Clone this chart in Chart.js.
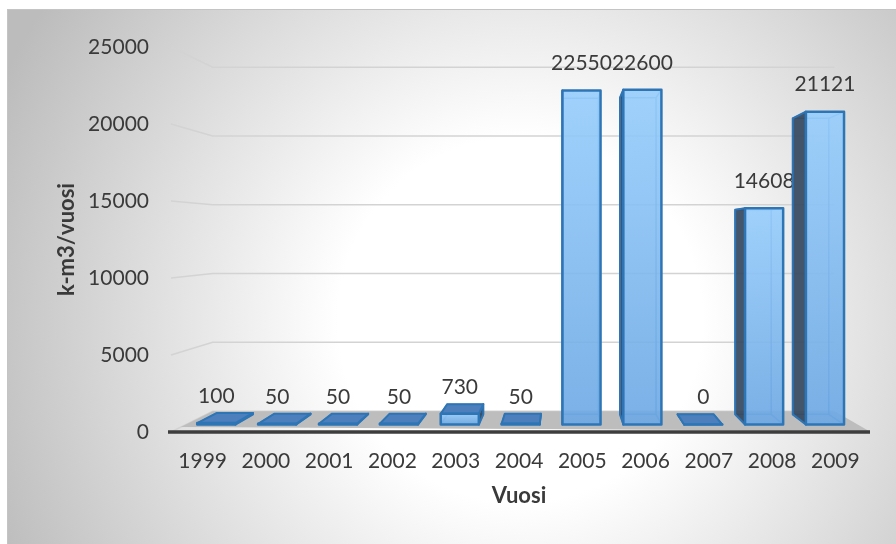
<!DOCTYPE html>
<html>
<head>
<meta charset="utf-8">
<script src="https://cdn.jsdelivr.net/npm/chart.js@4.4.1/dist/chart.umd.min.js"></script>
<style>
  html, body { margin: 0; padding: 0; background: #fff; }
  canvas { display: block; }
</style>
</head>
<body>
<canvas id="myChart" width="896" height="544"></canvas>
<script>
const years = ["1999", "2000", "2001", "2002", "2003", "2004", "2005", "2006", "2007", "2008", "2009"];
const volumes = [100, 50, 50, 50, 730, 50, 22550, 22600, 0, 14608, 21121];
const yTicks = [0, 5000, 10000, 15000, 20000, 25000];

const TEXT = "#3a3a3a";
const FONT = "Lato";

// fake perspective: everything shrinks toward this point with depth
const VP = { x: 562, y: 236 };
const FLOOR_BACK = 0.8935;
const FLOOR_TOP_FRONT = 0.975;
const BAR_FRONT = 0.962;
const BAR_BACK = 0.91;

function proj(x, y, s) {
  return { x: VP.x + s * (x - VP.x), y: VP.y + s * (y - VP.y) };
}

function poly(ctx, pts) {
  ctx.beginPath();
  ctx.moveTo(pts[0].x, pts[0].y);
  for (let i = 1; i < pts.length; i++) ctx.lineTo(pts[i].x, pts[i].y);
  ctx.closePath();
}

const background = {
  id: "background",
  beforeDraw(chart) {
    const ctx = chart.ctx;
    ctx.save();
    ctx.fillStyle = "#fff";
    ctx.fillRect(0, 0, chart.width, chart.height);
    const g = ctx.createRadialGradient(520, 320, 0, 520, 320, 570);
    g.addColorStop(0, "#ffffff");
    g.addColorStop(0.32, "#ffffff");
    g.addColorStop(1, "#bcbcbc");
    ctx.fillStyle = g;
    ctx.fillRect(7, 9, chart.width - 7, chart.height - 9);
    ctx.strokeStyle = "#c4c4c4";
    ctx.lineWidth = 1;
    ctx.strokeRect(7.5, 9.5, chart.width, chart.height);
    ctx.restore();
  },
};

const walls = {
  id: "walls",
  beforeDatasetsDraw(chart) {
    const ctx = chart.ctx;
    const a = chart.chartArea;
    const y = chart.scales.y;
    ctx.save();

    // gridlines: short diagonal from the axis to the back wall
    ctx.strokeStyle = "#d3d3d3";
    ctx.lineWidth = 1.5;
    yTicks.forEach((v) => {
      const py = y.getPixelForValue(v);
      const p1 = proj(a.left, py, FLOOR_BACK);
      const p2 = proj(a.right, py, FLOOR_BACK);
      ctx.beginPath();
      ctx.moveTo(a.left, py);
      ctx.lineTo(p1.x, p1.y);
      ctx.lineTo(p2.x, p2.y);
      ctx.stroke();
    });

    // floor
    const y0 = y.getPixelForValue(0);
    const floor = [
      proj(a.left, y0, FLOOR_TOP_FRONT),
      { x: a.right + 2, y: y0 - 1 },
      proj(a.right, y0, FLOOR_BACK),
      proj(a.left, y0, FLOOR_BACK),
    ];
    ctx.fillStyle = "#bdbdbd";
    poly(ctx, floor);
    ctx.fill();

    ctx.strokeStyle = "#3d3d3d";
    ctx.lineWidth = 3.5;
    ctx.beginPath();
    ctx.moveTo(a.left - 3, y0);
    ctx.lineTo(a.right + 3, y0);
    ctx.stroke();
    ctx.restore();
  },
};

const bars3d = {
  id: "bars3d",
  afterDatasetsDraw(chart) {
    const ctx = chart.ctx;
    const meta = chart.getDatasetMeta(0);
    const values = chart.data.datasets[0].data;
    ctx.save();
    ctx.lineJoin = "round";

    meta.data.forEach((bar, i) => {
      const { x, y: top, base, width } = bar.getProps(["x", "y", "base", "width"], true);
      const L = x - width / 2;
      const R = x + width / 2;
      const f = [proj(L, top, BAR_FRONT), proj(R, top, BAR_FRONT), proj(R, base, BAR_FRONT), proj(L, base, BAR_FRONT)];
      const b = [proj(L, top, BAR_BACK), proj(R, top, BAR_BACK), proj(R, base, BAR_BACK), proj(L, base, BAR_BACK)];

      // hidden edges, seen through the glassy fill
      ctx.strokeStyle = "rgba(46,117,182,0.7)";
      ctx.lineWidth = 1.5;
      poly(ctx, b);
      ctx.stroke();
      for (let k = 0; k < 4; k++) {
        ctx.beginPath();
        ctx.moveTo(f[k].x, f[k].y);
        ctx.lineTo(b[k].x, b[k].y);
        ctx.stroke();
      }

      ctx.strokeStyle = "#2e75b6";
      ctx.lineWidth = 2;

      // side face that faces the viewer
      let side = null;
      if (L > VP.x) side = [f[0], b[0], b[3], f[3]];
      else if (R < VP.x) side = [f[1], b[1], b[2], f[2]];
      if (side) {
        ctx.fillStyle = "rgba(52,72,95,0.92)";
        poly(ctx, side);
        ctx.fill();
        ctx.stroke();
      }

      // top face only shows below eye level
      if (top > VP.y) {
        ctx.fillStyle = "#4d7fbd";
        poly(ctx, [f[0], f[1], b[1], b[0]]);
        ctx.fill();
        ctx.stroke();
      }

      // front face
      const g = ctx.createLinearGradient(0, f[0].y, 0, f[3].y);
      g.addColorStop(0, "rgba(150,205,252,0.9)");
      g.addColorStop(1, "rgba(108,168,228,0.9)");
      ctx.fillStyle = g;
      poly(ctx, f);
      ctx.fill();
      ctx.lineWidth = 2.5;
      ctx.stroke();

      // value label
      ctx.fillStyle = TEXT;
      ctx.font = "21px " + FONT;
      ctx.textAlign = "center";
      ctx.textBaseline = "middle";
      ctx.fillText(String(values[i]), (f[0].x + f[1].x) / 2, f[0].y - 27);
    });
    ctx.restore();
  },
};

const ctx = document.getElementById("myChart");

new Chart(ctx, {
  type: "bar",
  data: {
    labels: years,
    datasets: [
      {
        label: "k-m3/vuosi",
        data: volumes,
        backgroundColor: "rgba(0,0,0,0)",
        borderWidth: 0,
        categoryPercentage: 1,
        barPercentage: 0.626,
      },
    ],
  },
  options: {
    responsive: false,
    animation: false,
    devicePixelRatio: 1,
    layout: {
      padding: { top: 47, right: 29, bottom: 0, left: 0 },
    },
    plugins: {
      legend: { display: false },
      tooltip: { enabled: false },
    },
    scales: {
      x: {
        grid: { display: false, drawTicks: false },
        border: { display: false },
        ticks: {
          color: TEXT,
          font: { family: FONT, size: 21 },
          padding: 17,
          maxRotation: 0,
        },
        title: {
          display: true,
          text: "Vuosi",
          color: TEXT,
          font: { family: FONT, size: 22, weight: "bold" },
          padding: { top: 0, bottom: 35 },
        },
        afterFit(scale) {
          scale.height = 112;
        },
      },
      y: {
        min: yTicks[0],
        max: yTicks[yTicks.length - 1],
        grid: { display: false, drawTicks: false },
        border: { display: false },
        ticks: {
          color: TEXT,
          font: { family: FONT, size: 21 },
          padding: 22,
          callback: (v) => String(v),
        },
        afterBuildTicks(scale) {
          scale.ticks = yTicks.map((v) => ({ value: v }));
        },
        title: {
          display: true,
          text: "k-m3/vuosi",
          color: TEXT,
          font: { family: FONT, size: 22, weight: "bold" },
          padding: { top: 54, bottom: 0 },
        },
        afterFit(scale) {
          scale.width = 171;
        },
      },
    },
  },
  plugins: [background, walls, bars3d],
});
</script>
</body>
</html>
